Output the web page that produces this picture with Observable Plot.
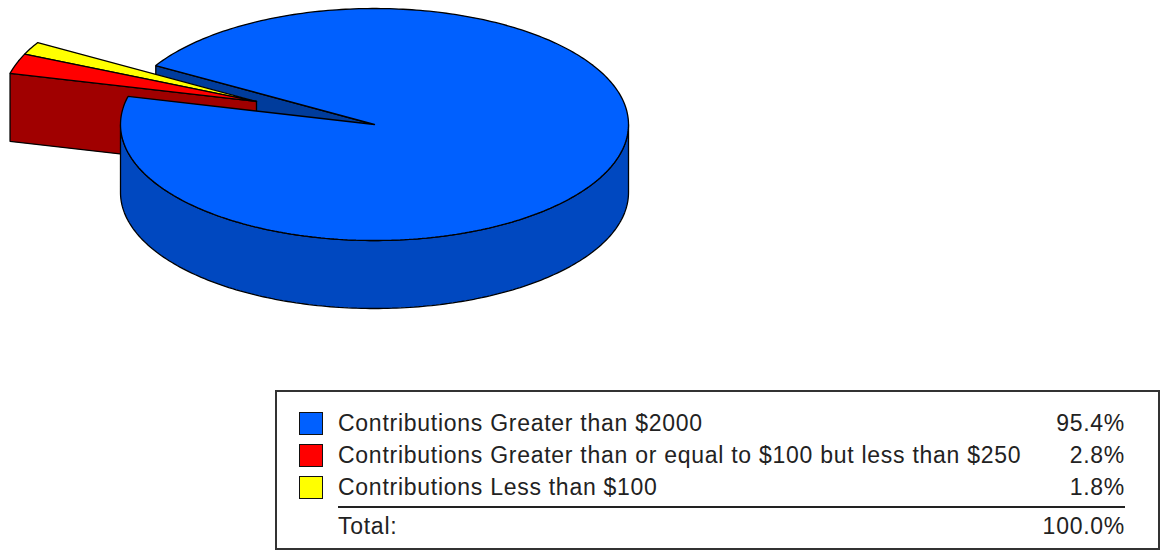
<!DOCTYPE html>
<html>
<head>
<meta charset="utf-8">
<script src="https://cdn.jsdelivr.net/npm/d3@7"></script>
<script src="https://cdn.jsdelivr.net/npm/@observablehq/plot@0.6"></script>
<style>
  html, body { margin: 0; padding: 0; background: #fff; width: 1164px; height: 550px; overflow: hidden; }
  #chart { height: 385px; }
  #chart svg { display: block; }
  #legend {
    position: absolute; left: 275px; top: 390px; width: 881px; height: 156px;
    border: 2px solid #333; box-sizing: content-box;
    font-family: "Liberation Sans", Arial, sans-serif; font-size: 23px; color: #222;
  }
  .row { position: absolute; left: 0; right: 0; height: 30px; line-height: 30px; white-space: nowrap; }
  .swatch { position: absolute; left: 22px; top: 4px; width: 22px; height: 21px; border: 1.5px solid #111; }
  .label { position: absolute; left: 61px; letter-spacing: 0.73px; }
  .value { position: absolute; right: 33px; letter-spacing: 0.73px; }
  #rule { position: absolute; left: 61px; right: 33px; top: 114px; height: 2px; background: #222; }
</style>
</head>
<body>
<div id="chart"></div>
<div id="legend"></div>
<script>
const categories = [
  "Contributions Greater than $2000",
  "Contributions Greater than or equal to $100 but less than $250",
  "Contributions Less than $100"
];
const shares = [95.4, 2.8, 1.8];
const valueLabels = ["95.4%", "2.8%", "1.8%"];
const totalLabel = "Total:";
const totalValue = "100.0%";
const colors = ["#0060ff", "#ff0000", "#ffff00"];
const darkColors = ["#0048c0", "#a00000", "#c0c000"];
const innerWallColor = "#003c9c";

// pie layout
const W = 1164, H = 385;
const cx = 374, cy = 124, rx = 254, ry = 116, depth = 68;
const startAngle = 14;
const explodeDX = -118, explodeDY = -23;

const rad = d => d * Math.PI / 180;
const pt = (a, ox = 0, oy = 0) => ({
  x: cx + ox - rx * Math.cos(rad(a)),
  y: cy + oy - ry * Math.sin(rad(a))
});
const arc = (a0, a1, ox = 0, oy = 0) => {
  const n = Math.max(2, Math.ceil(Math.abs(a1 - a0)));
  return d3.range(n + 1).map(i => pt(a0 + (a1 - a0) * i / n, ox, oy));
};
const wedge = (a0, a1, ox = 0, oy = 0) => {
  const c = {x: cx + ox, y: cy + oy};
  return [c, ...arc(a0, a1, ox, oy), c];
};

const deg = shares.map(s => s / 100 * 360);
const redA0 = startAngle, redA1 = redA0 + deg[1], yelA1 = redA1 + deg[2];
const blueA0 = yelA1, blueA1 = startAngle + 360;

const shape = (pts, fill) => Plot.line(pts, {
  x: "x", y: "y", fill, stroke: "#000", strokeWidth: 1.3, curve: "linear", strokeLinejoin: "miter"
});

// exploded red cut-wall
const rA = pt(redA0, explodeDX, explodeDY), rC = {x: cx + explodeDX, y: cy + explodeDY};
const redWall = [rA, rC, {x: rC.x, y: rC.y + depth}, {x: rA.x, y: rA.y + depth}, rA];

// blue outer wall (front half)
const blueFront = arc(180, 360);
const blueWall = [...blueFront, ...arc(360, 180, 0, depth), blueFront[0]];

// inner wall seen through the gap
const bE = pt(blueA0), bC = {x: cx, y: cy};
const innerWall = [bC, bE, {x: bE.x, y: bE.y + depth}, {x: cx, y: cy + depth}, bC];

const plot = Plot.plot({
  width: W, height: H,
  margin: 0,
  x: {domain: [0, W], range: [0, W], axis: null},
  y: {domain: [0, H], range: [0, H], axis: null},
  marks: [
    shape(innerWall, innerWallColor),
    shape(redWall, darkColors[1]),
    shape(wedge(redA1, yelA1, explodeDX, explodeDY), colors[2]),
    shape(wedge(redA0, redA1, explodeDX, explodeDY), colors[1]),
    shape(blueWall, darkColors[0]),
    shape(wedge(blueA0, blueA1), colors[0])
  ]
});
document.getElementById("chart").appendChild(plot);

const legend = d3.select("#legend");
const rowTops = [16, 48, 80];
categories.forEach((c, i) => {
  const r = legend.append("div").attr("class", "row").style("top", rowTops[i] + "px");
  r.append("div").attr("class", "swatch").style("background", colors[i]);
  r.append("div").attr("class", "label").text(c);
  r.append("div").attr("class", "value").text(valueLabels[i]);
});
legend.append("div").attr("id", "rule");
const t = legend.append("div").attr("class", "row").style("top", "119px");
t.append("div").attr("class", "label").text(totalLabel);
t.append("div").attr("class", "value").text(totalValue);
</script>
</body>
</html>
